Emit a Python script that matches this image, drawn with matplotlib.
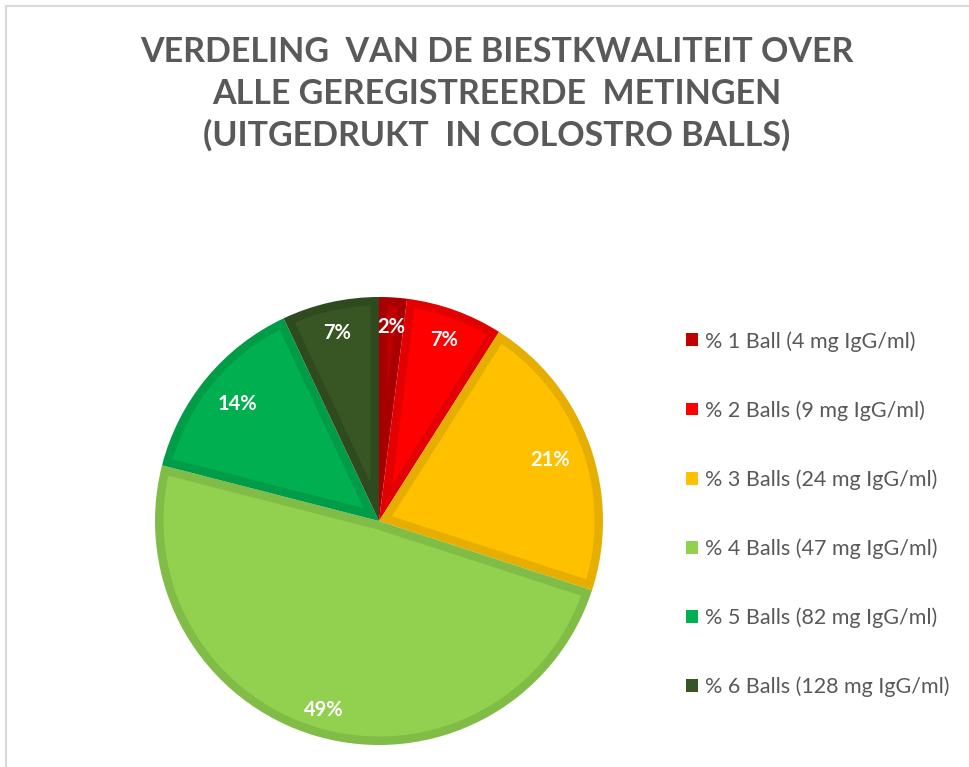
import matplotlib
matplotlib.use("Agg")
import matplotlib.pyplot as plt
import numpy as np
from matplotlib.patches import Patch, Polygon
from matplotlib.lines import Line2D

# data
labels = ["% 1 Ball (4 mg IgG/ml)", "% 2 Balls (9 mg IgG/ml)", "% 3 Balls (24 mg IgG/ml)",
          "% 4 Balls (47 mg IgG/ml)", "% 5 Balls (82 mg IgG/ml)", "% 6 Balls (128 mg IgG/ml)"]
shares = [2, 7, 21, 49, 14, 7]
fills = ["#C00000", "#FF0000", "#FFC000", "#92D050", "#00B050", "#375623"]
edges = ["#A80000", "#E20000", "#E6AE00", "#80BC46", "#009C47", "#2F4A1E"]

title = "VERDELING  VAN DE BIESTKWALITEIT OVER\nALLE GEREGISTREERDE  METINGEN\n(UITGEDRUKT  IN COLOSTRO BALLS)"
text_grey = "#595959"
font = "Lato"
label_dist = [0.87, 0.86, 0.81, 0.88, 0.82, 0.86]  # where excel put each % label


def inset_wedge(theta1, theta2, R, d):
    """Polygon of a wedge shrunk inward by d (office style inner border)."""
    a1, a2 = np.radians(theta1), np.radians(theta2)
    half = (a2 - a1) / 2
    mid = (a1 + a2) / 2
    p = d / np.sin(half) * np.array([np.cos(mid), np.sin(mid)])
    Ri = R - d

    def hit(a):
        u = np.array([np.cos(a), np.sin(a)])
        b = p @ u
        t = -b + np.sqrt(b * b - p @ p + Ri * Ri)
        return p + t * u

    q1, q2 = hit(a1), hit(a2)
    b1 = np.arctan2(q1[1], q1[0])
    b2 = np.arctan2(q2[1], q2[0])
    while b2 < b1:
        b2 += 2 * np.pi
    arc = np.linspace(b1, b2, 120)
    pts = [p] + [np.array([Ri * np.cos(a), Ri * np.sin(a)]) for a in arc]
    return np.array(pts)


W, H = 970, 767
fig = plt.figure(figsize=(W / 100, H / 100), dpi=100, facecolor="white")

# pie axes, placed in pixel terms (centre 379,521 radius 224)
cx, cy, r = 379, 521, 224
ax = fig.add_axes([(cx - r) / W, (H - cy - r) / H, 2 * r / W, 2 * r / H])
wedges, _, autotexts = ax.pie(shares, colors=edges, startangle=90, counterclock=False,
                              radius=1, autopct="%1.0f%%", pctdistance=0.85,
                              wedgeprops=dict(linewidth=0),
                              textprops=dict(color="white", fontsize=14.5, fontweight="bold",
                                             family=font, zorder=5))
border = 8.5 / r
for w, fc, t, dist in zip(wedges, fills, autotexts, label_dist):
    ax.add_patch(Polygon(inset_wedge(w.theta1, w.theta2, w.r, border), closed=True,
                         facecolor=fc, edgecolor="none", zorder=w.get_zorder() + 0.5))
    mid = np.radians((w.theta1 + w.theta2) / 2)
    t.set_position((dist * np.cos(mid), dist * np.sin(mid)))
ax.set_xlim(-1, 1)
ax.set_ylim(-1, 1)
ax.set_aspect("equal")
ax.axis("off")

fig.text(497 / W, 1 - 94 / H, title, ha="center", va="center", fontsize=24.5, fontweight="bold",
         color=text_grey, family=font, linespacing=1.36)

handles = [Patch(facecolor=c, edgecolor="none") for c in fills]
leg = fig.legend(handles, labels, loc="upper left", bbox_to_anchor=(686 / W, 1 - 331 / H),
                 frameon=False, handlelength=0.55, handleheight=0.55, handletextpad=0.35,
                 labelspacing=2.25, borderaxespad=0, borderpad=0,
                 prop=dict(family=font, size=15.5))
for t in leg.get_texts():
    t.set_color(text_grey)

# light frame on top and left, as in the screenshot
fig.add_artist(Line2D([6 / W, 6 / W], [0, 1 - 6 / H], transform=fig.transFigure, color="#D9D9D9", lw=1.5))
fig.add_artist(Line2D([6 / W, 1], [1 - 6 / H, 1 - 6 / H], transform=fig.transFigure, color="#D9D9D9", lw=1.5))

fig.savefig("out.png", dpi=100, facecolor="white")
